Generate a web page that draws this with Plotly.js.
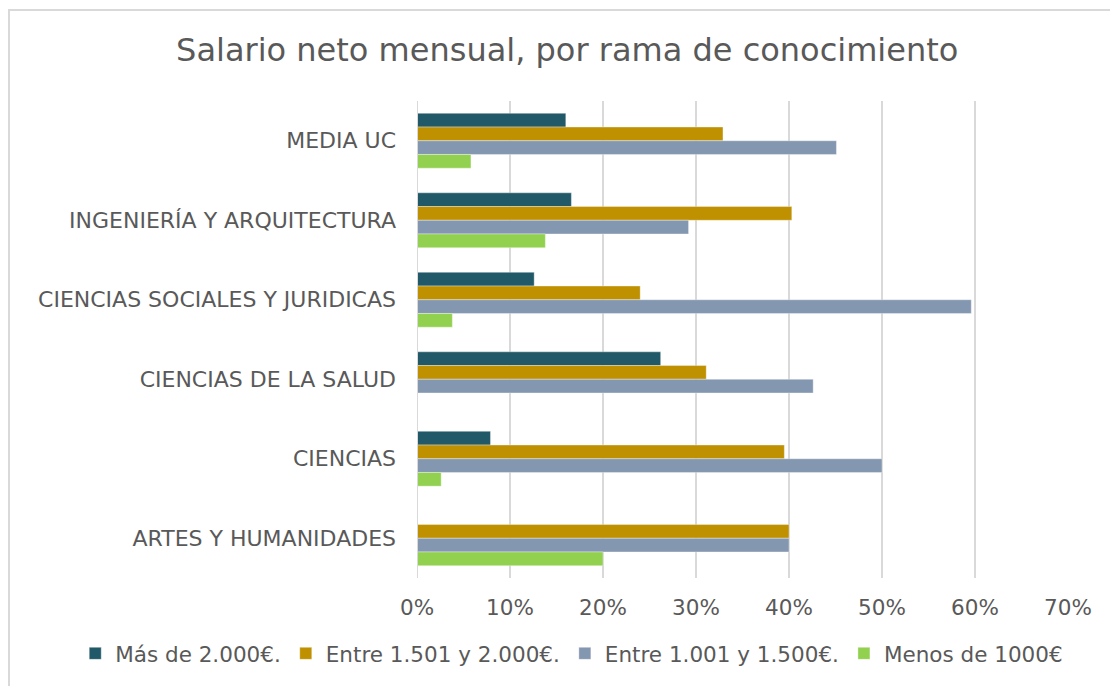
<!DOCTYPE html>
<html>
<head>
<meta charset="utf-8">
<script src="https://cdn.plot.ly/plotly-3.0.1.min.js"></script>
<style>
  html, body { margin: 0; padding: 0; background: #fff; }
  #wrap { position: relative; width: 1110px; height: 686px; overflow: hidden; }
  #chart { position: absolute; left: 0; top: 0; width: 1110px; height: 686px; }
  #frame { position: absolute; left: 8px; top: 9px; width: 1200px; height: 800px;
           border-top: 2px solid #d9d9d9; border-left: 2px solid #d9d9d9; pointer-events: none; }
</style>
</head>
<body>
<div id="wrap">
  <div id="chart"></div>
  <div id="frame"></div>
</div>
<script>
const categories = [
  "MEDIA UC",
  "INGENIERÍA Y ARQUITECTURA",
  "CIENCIAS SOCIALES Y JURIDICAS",
  "CIENCIAS DE LA SALUD",
  "CIENCIAS",
  "ARTES Y HUMANIDADES"
];
const seriesNames = ["Más de 2.000€.", "Entre 1.501 y 2.000€.", "Entre 1.001 y 1.500€.", "Menos de 1000€"];
const masDe2000   = [0.160, 0.166, 0.126, 0.262, 0.079, 0];
const entre1501   = [0.329, 0.403, 0.240, 0.311, 0.395, 0.40];
const entre1001   = [0.451, 0.292, 0.596, 0.426, 0.500, 0.40];
const menosDe1000 = [0.058, 0.138, 0.038, 0, 0.026, 0.20];
const tickVals = [0, 0.1, 0.2, 0.3, 0.4, 0.5, 0.6, 0.7];
const tickText = ["0%", "10%", "20%", "30%", "40%", "50%", "60%", "70%"];

const colors = ["#215968", "#BF9000", "#8497B0", "#92D050"];
const values = [masDe2000, entre1501, entre1001, menosDe1000];

const FONT = "Verdana, 'DejaVu Sans', sans-serif";
const TXT = "#595959";

const traces = values.map((v, i) => ({
  type: "bar",
  orientation: "h",
  name: seriesNames[i],
  y: categories,
  x: v,
  marker: { color: colors[i], line: { color: "rgba(255,255,255,0.35)", width: 1 } },
  hoverinfo: "x+name"
}));

const layout = {
  width: 1110,
  height: 686,
  paper_bgcolor: "rgba(0,0,0,0)",
  plot_bgcolor: "#fff",
  margin: { l: 417, r: 42, t: 101, b: 108 },
  barmode: "group",
  bargap: 0.31,
  bargroupgap: 0,
  font: { family: FONT, color: TXT, size: 21 },
  title: {
    text: "Salario neto mensual, por rama de conocimiento",
    font: { family: FONT, size: 32, color: TXT },
    x: 0.511, xanchor: "center", xref: "container",
    y: 0.927, yanchor: "middle", yref: "container"
  },
  xaxis: {
    range: [0, 0.7],
    tickvals: tickVals,
    ticktext: tickText,
    showgrid: true,
    gridcolor: "#d9d9d9",
    gridwidth: 2,
    zeroline: false,
    showline: false,
    ticks: "",
    automargin: false,
    ticklabelstandoff: 14,
    tickfont: { family: FONT, size: 21.5, color: TXT },
    fixedrange: true
  },
  yaxis: {
    type: "category",
    autorange: "reversed",
    showgrid: false,
    zeroline: false,
    showline: false,
    ticks: "",
    automargin: false,
    ticklabelstandoff: 20,
    tickfont: { family: FONT, size: 22, color: TXT },
    fixedrange: true
  },
  shapes: [{
    type: "line", xref: "x", yref: "paper",
    x0: 0, x1: 0, y0: 0, y1: 1,
    line: { color: "#d9d9d9", width: 2 }
  }],
  legend: {
    orientation: "h",
    x: -0.525, xref: "paper", xanchor: "left",
    y: -0.158, yref: "paper", yanchor: "middle",
    font: { family: FONT, size: 21.5, color: TXT },
    itemwidth: 30,
    traceorder: "normal"
  },
  showlegend: true
};

Plotly.newPlot("chart", traces, layout, { displayModeBar: false, staticPlot: true });
</script>
</body>
</html>
